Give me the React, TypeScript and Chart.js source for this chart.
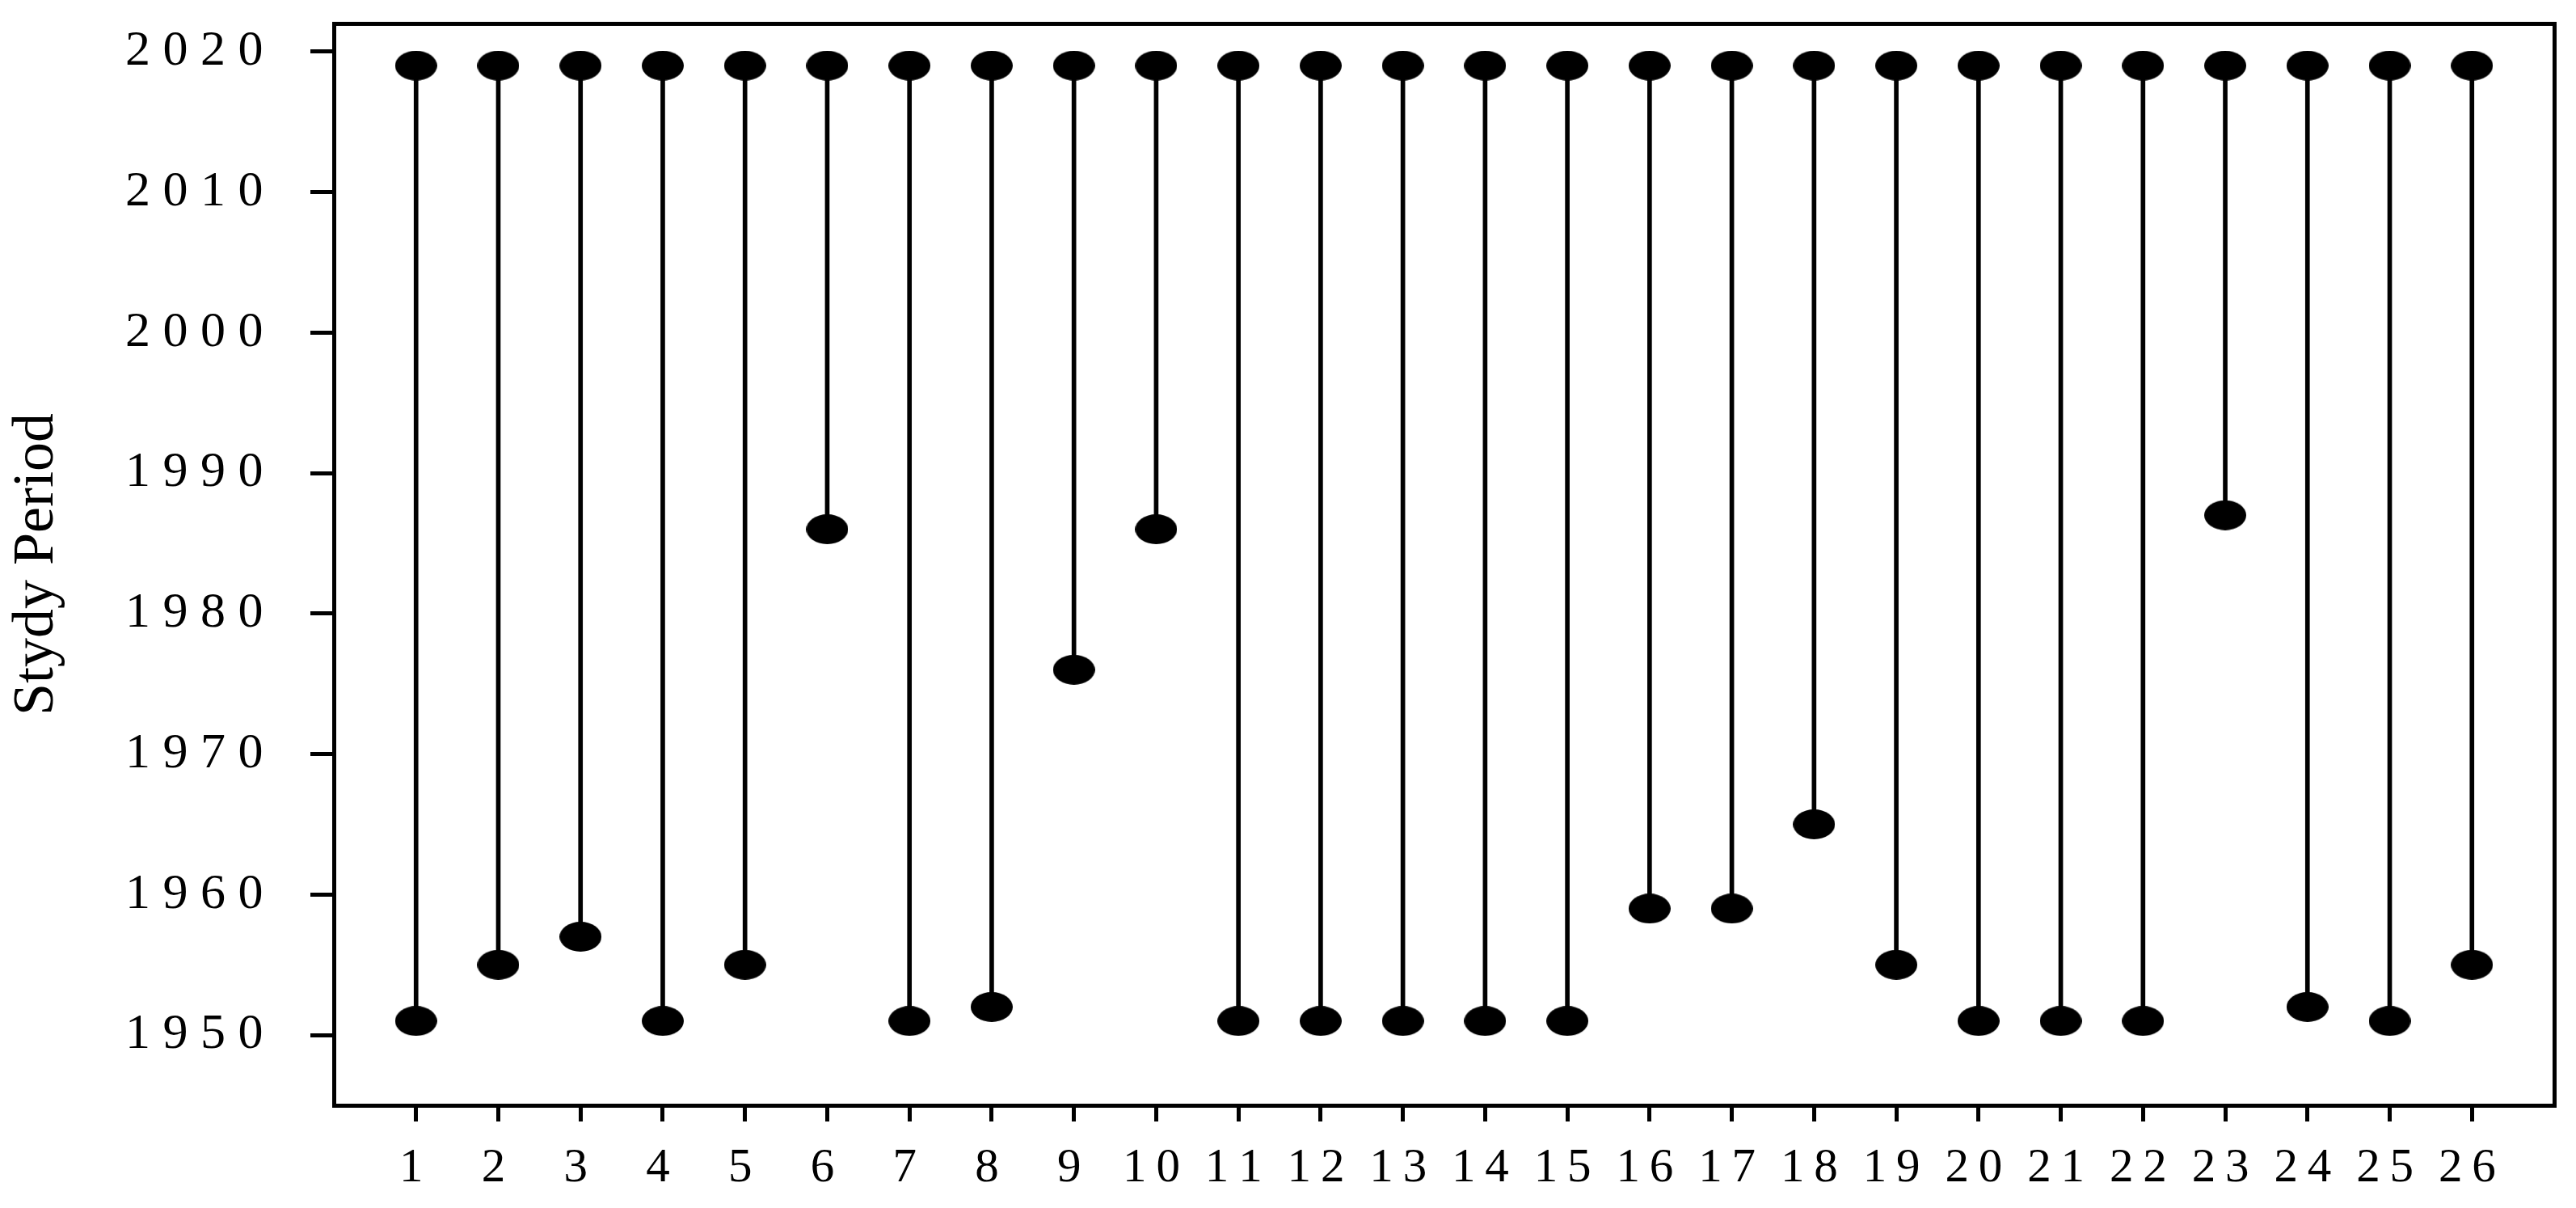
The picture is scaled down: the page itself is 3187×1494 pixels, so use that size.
import React, { useEffect, useRef } from 'react';
import { Chart, registerables } from 'chart.js';

Chart.register(...registerables);

// ---- data ----
const categories = [1, 2, 3, 4, 5, 6, 7, 8, 9, 10, 11, 12, 13, 14, 15, 16, 17, 18, 19, 20, 21, 22, 23, 24, 25, 26];
const startYears = [1951, 1955, 1957, 1951, 1955, 1986, 1951, 1952, 1976, 1986, 1951, 1951, 1951, 1951, 1951, 1959, 1959, 1965, 1955, 1951, 1951, 1951, 1987, 1952, 1951, 1955];
const endYears = [2019, 2019, 2019, 2019, 2019, 2019, 2019, 2019, 2019, 2019, 2019, 2019, 2019, 2019, 2019, 2019, 2019, 2019, 2019, 2019, 2019, 2019, 2019, 2019, 2019, 2019];
const xTickLabels = ['1', '2', '3', '4', '5', '6', '7', '8', '9', '10', '11', '12', '13', '14', '15', '16', '17', '18', '19', '20', '21', '22', '23', '24', '25', '26'];
const yTickValues = [1950, 1960, 1970, 1980, 1990, 2000, 2010, 2020];
const yTickLabels = ['1950', '1960', '1970', '1980', '1990', '2000', '2010', '2020'];
const yAxisTitle = 'Stydy Period';

const FONT = "'Liberation Serif', 'Times New Roman', serif";

function spaced(label: string, sp: string): string {
  return label.split('').join(sp) + sp;
}

function makeEllipse(): HTMLCanvasElement {
  const c = document.createElement('canvas');
  c.width = 52;
  c.height = 37;
  const g = c.getContext('2d')!;
  g.fillStyle = '#000';
  g.beginPath();
  g.ellipse(26, 18.5, 26, 18.5, 0, 0, Math.PI * 2);
  g.fill();
  return c;
}

function zeroPad(axis: any) {
  axis.paddingTop = 0;
  axis.paddingBottom = 0;
  axis.paddingLeft = 0;
  axis.paddingRight = 0;
}

export default function App() {
  const ref = useRef<HTMLCanvasElement | null>(null);

  useEffect(() => {
    if (!ref.current) return;
    const marker = makeEllipse();
    const stems = categories.map((c, i) => ({ x: c, y: [startYears[i], endYears[i]] }));
    const starts = categories.map((c, i) => ({ x: c, y: startYears[i] }));
    const ends = categories.map((c, i) => ({ x: c, y: endYears[i] }));

    const chart = new Chart(ref.current, {
      type: 'bar',
      data: {
        datasets: [
          {
            type: 'bar',
            data: stems as any,
            backgroundColor: '#000',
            borderWidth: 0,
            barThickness: 5,
            order: 3,
            xAxisID: 'x',
            yAxisID: 'y',
          } as any,
          {
            type: 'scatter',
            data: starts,
            pointStyle: marker as any,
            pointRadius: 10,
            order: 1,
            xAxisID: 'x',
            yAxisID: 'y',
          } as any,
          {
            type: 'scatter',
            data: ends,
            pointStyle: marker as any,
            pointRadius: 10,
            order: 1,
            xAxisID: 'x',
            yAxisID: 'y',
          } as any,
        ],
      },
      options: {
        animation: false,
        responsive: false,
        devicePixelRatio: 1,
        events: [],
        layout: { padding: { top: 29, right: 27, bottom: 0, left: 0 } },
        plugins: { legend: { display: false }, tooltip: { enabled: false } },
        scales: {
          x: {
            type: 'linear',
            position: 'bottom',
            offset: false,
            min: 0,
            max: 27,
            afterBuildTicks: (axis: any) => {
              axis.ticks = categories.map((v) => ({ value: v }));
            },
            afterFit: (axis: any) => {
              axis.height = 127;
              zeroPad(axis);
            },
            ticks: {
              autoSkip: false,
              maxRotation: 0,
              minRotation: 0,
              padding: 23,
              color: '#000',
              font: { family: FONT, size: 59 },
              callback: (value: any) => {
                const idx = categories.indexOf(Number(value));
                return idx >= 0 ? spaced(xTickLabels[idx], '\u2009') : '';
              },
            },
            grid: {
              display: true,
              offset: false,
              drawOnChartArea: false,
              drawTicks: true,
              tickLength: 20,
              tickWidth: 5,
              lineWidth: 5,
              tickColor: '#000',
              color: '#000',
            },
            border: { display: true, width: 5, color: '#000' },
          } as any,
          y: {
            type: 'linear',
            position: 'left',
            min: 1945,
            max: 2022,
            afterBuildTicks: (axis: any) => {
              axis.ticks = yTickValues.map((v) => ({ value: v }));
            },
            afterFit: (axis: any) => {
              axis.width = 413;
              zeroPad(axis);
            },
            ticks: {
              padding: 43,
              color: '#000',
              font: { family: FONT, size: 62 },
              callback: (value: any) => {
                const idx = yTickValues.indexOf(Number(value));
                return idx >= 0 ? spaced(yTickLabels[idx], '\u2005') : '';
              },
            },
            grid: {
              display: true,
              drawOnChartArea: false,
              drawTicks: true,
              tickLength: 29,
              tickWidth: 5,
              lineWidth: 5,
              tickColor: '#000',
              color: '#000',
            },
            border: { display: true, width: 5, color: '#000' },
            title: {
              display: true,
              text: yAxisTitle,
              color: '#000',
              font: { family: FONT, size: 72 },
              padding: { top: 3, bottom: 0 },
            },
          } as any,
          x2: {
            type: 'linear',
            position: 'top',
            min: 0,
            max: 1,
            afterFit: (axis: any) => {
              axis.height = 0;
              zeroPad(axis);
            },
            ticks: { display: false },
            grid: { display: false, drawTicks: false },
            border: { display: true, width: 5, color: '#000' },
          } as any,
          y2: {
            type: 'linear',
            position: 'right',
            min: 0,
            max: 1,
            afterFit: (axis: any) => {
              axis.width = 0;
              zeroPad(axis);
            },
            ticks: { display: false },
            grid: { display: false, drawTicks: false },
            border: { display: true, width: 5, color: '#000' },
          } as any,
        },
      },
    });
    return () => chart.destroy();
  }, []);

  return (
    <div style={{ position: 'absolute', left: 0, top: 0, width: 3187, height: 1494, background: '#fff' }}>
      <canvas ref={ref} width={3187} height={1494} style={{ display: 'block', width: 3187, height: 1494 }} />
    </div>
  );
}
